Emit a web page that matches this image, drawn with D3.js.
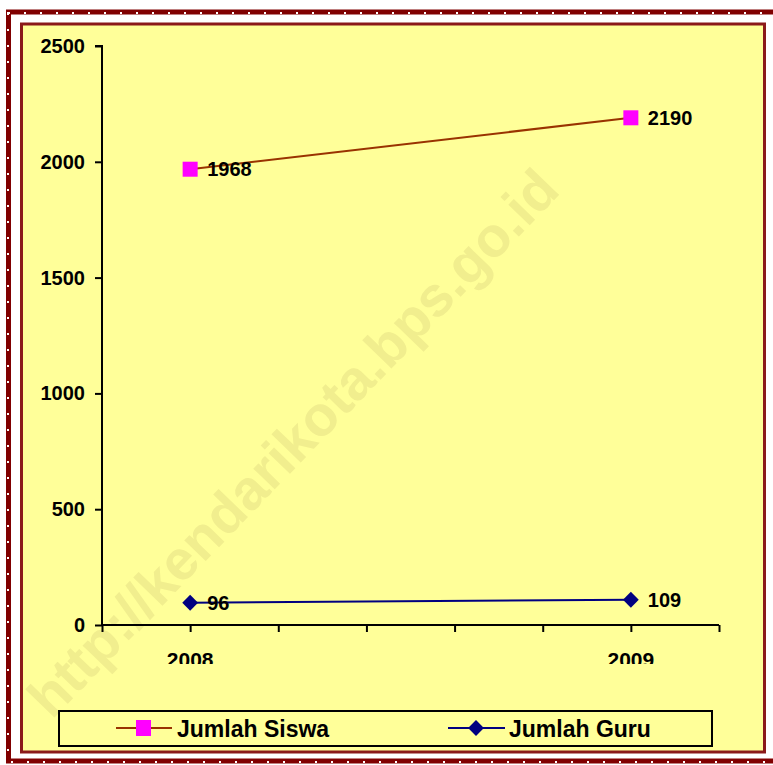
<!DOCTYPE html>
<html>
<head>
<meta charset="utf-8">
<title>Jumlah Siswa dan Guru</title>
<script src="https://cdn.jsdelivr.net/npm/d3@7"></script>
<style>
  body { margin: 0; background: #fff; }
</style>
</head>
<body>
<script>
// data
var years = ["2008", "2009"];
var yearPos = [1, 6];            // slot on the category axis (7 slots)
var siswa = [1968, 2190];
var guru = [96, 109];
var yTicks = [0, 500, 1000, 1500, 2000, 2500];

var W = 773, H = 765;
var font = "Arial, 'Liberation Sans', sans-serif";
var svg = d3.select("body").append("svg").attr("width", W).attr("height", H);

// outer dotted frame
svg.append("rect").attr("x", 8.5).attr("y", 12).attr("width", 780).attr("height", 749)
   .attr("fill", "none").attr("stroke", "#800000").attr("stroke-width", 5);
svg.append("rect").attr("x", 8.5).attr("y", 12).attr("width", 780).attr("height", 749)
   .attr("fill", "none").attr("stroke", "#fff").attr("stroke-width", 2)
   .attr("stroke-dasharray", "2,14").attr("transform", "translate(-0.5,1)");

// chart area
svg.append("rect").attr("x", 21.5).attr("y", 24).attr("width", 743).attr("height", 728)
   .attr("fill", "#FFFF99").attr("stroke", "#8B1A1A").attr("stroke-width", 3);

// watermark
svg.append("text")
   .attr("transform", "translate(296,446) rotate(-46)")
   .attr("text-anchor", "middle")
   .attr("dominant-baseline", "middle")
   .attr("font-family", font)
   .attr("font-weight", "bold").attr("font-size", 56)
   .attr("fill", "#F1EE8E")
   .text("http://kendarikota.bps.go.id");

var x = d3.scaleLinear().domain([0, 7]).range([102, 719]);
var y = d3.scaleLinear().domain([0, 2500]).range([625, 46]);

// y axis
var yAxis = d3.axisLeft(y).tickValues(yTicks).tickSize(7).tickPadding(10).tickFormat(d3.format("d"));
var gy = svg.append("g").attr("transform", "translate(102,0)").call(yAxis);
gy.select(".domain").attr("stroke", "#000").attr("stroke-width", 2).attr("d", "M-7,46H0V625");
gy.selectAll(".tick line").attr("stroke", "#000").attr("stroke-width", 2);
gy.selectAll(".tick text").attr("font-family", font)
  .attr("font-weight", "bold").attr("font-size", 20).attr("fill", "#000");

// x axis
var xAxis = d3.axisBottom(x).ticks(7).tickSize(7).tickFormat("");
var gx = svg.append("g").attr("transform", "translate(0,625)").call(xAxis);
gx.select(".domain").attr("stroke", "#000").attr("stroke-width", 2).attr("d", "M102,0H719");
gx.selectAll(".tick line").attr("stroke", "#000").attr("stroke-width", 2);

// year labels (clipped at the bottom like the original)
svg.append("clipPath").attr("id", "clipx").append("rect")
   .attr("x", 0).attr("y", 600).attr("width", W).attr("height", 64);
svg.append("g").attr("clip-path", "url(#clipx)")
   .selectAll("text").data(years).enter().append("text")
   .attr("x", function(d, i) { return x(yearPos[i]); })
   .attr("y", 667)
   .attr("text-anchor", "middle")
   .attr("font-family", font)
   .attr("font-weight", "bold").attr("font-size", 21)
   .text(function(d) { return d; });

// lines
var line = d3.line().x(function(d, i) { return x(yearPos[i]); }).y(function(d) { return y(d); });
svg.append("path").datum(siswa).attr("d", line).attr("fill", "none")
   .attr("stroke", "#993300").attr("stroke-width", 2);
svg.append("path").datum(guru).attr("d", line).attr("fill", "none")
   .attr("stroke", "#000080").attr("stroke-width", 2);

// markers
svg.selectAll(".sq").data(siswa).enter().append("rect").attr("class", "sq")
   .attr("x", function(d, i) { return x(yearPos[i]) - 7.5; })
   .attr("y", function(d) { return y(d) - 7.5; })
   .attr("width", 15).attr("height", 15).attr("fill", "#FF00FF");
var diamond = d3.symbol().type(d3.symbolSquare).size(125);
svg.selectAll(".dm").data(guru).enter().append("path").attr("class", "dm")
   .attr("d", diamond)
   .attr("transform", function(d, i) { return "translate(" + x(yearPos[i]) + "," + y(d) + ") rotate(45)"; })
   .attr("fill", "#000080");

// value labels
function labels(data, cls) {
  svg.selectAll("." + cls).data(data).enter().append("text").attr("class", cls)
     .attr("x", function(d, i) { return x(yearPos[i]) + 17; })
     .attr("y", function(d) { return y(d) + 7; })
     .attr("font-family", font)
     .attr("font-weight", "bold").attr("font-size", 20)
     .text(function(d) { return d; });
}
labels(siswa, "ls");
labels(guru, "lg");

// legend
var lg = svg.append("g");
lg.append("rect").attr("x", 59).attr("y", 711).attr("width", 653).attr("height", 35)
  .attr("fill", "none").attr("stroke", "#000").attr("stroke-width", 2);
lg.append("line").attr("x1", 116).attr("x2", 172).attr("y1", 728).attr("y2", 728)
  .attr("stroke", "#993300").attr("stroke-width", 2);
lg.append("rect").attr("x", 136).attr("y", 720).attr("width", 15).attr("height", 16).attr("fill", "#FF00FF");
lg.append("text").attr("x", 177).attr("y", 737)
  .attr("font-family", font).attr("font-weight", "bold").attr("font-size", 23)
  .text("Jumlah Siswa");
lg.append("line").attr("x1", 448).attr("x2", 505).attr("y1", 728).attr("y2", 728)
  .attr("stroke", "#000080").attr("stroke-width", 2);
lg.append("path").attr("d", diamond).attr("transform", "translate(476,728) rotate(45)").attr("fill", "#000080");
lg.append("text").attr("x", 509).attr("y", 737)
  .attr("font-family", font).attr("font-weight", "bold").attr("font-size", 23)
  .text("Jumlah Guru");
</script>
</body>
</html>
